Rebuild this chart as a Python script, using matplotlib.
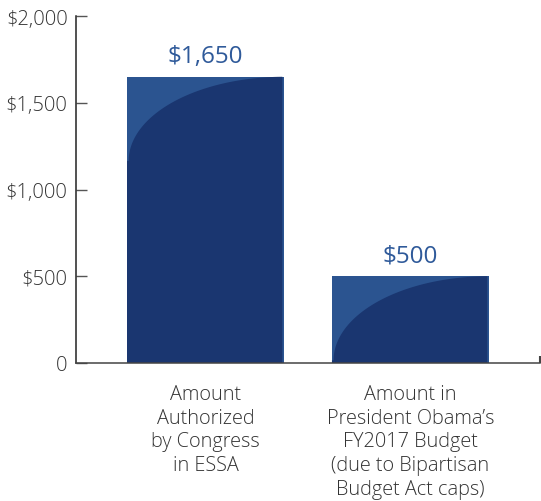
import numpy as np
import matplotlib.pyplot as plt
from matplotlib.patches import Polygon, Rectangle

plt.rcParams['font.family'] = ['Open Sans', 'DejaVu Sans']

categories = ['Amount\nAuthorized\nby Congress\nin ESSA',
              'Amount in\nPresident Obama\u2019s\nFY2017 Budget\n(due to Bipartisan\nBudget Act caps)']
values = [1650, 500]
value_labels = ['$1,650', '$500']
yticks = [0, 500, 1000, 1500, 2000]
ytick_labels = ['0', '$500', '$1,000', '$1,500', '$2,000']

light = '#2b5490'
dark = '#1a3670'
text_blue = '#2f5a9a'
grey = '#333333'

fig = plt.figure(figsize=(5.41, 5.02), dpi=100)
ax = fig.add_axes([0.1405, 0.275, 0.8575, 0.691])

width = 0.766
curve_h = 485
xs = np.arange(len(values))
for x, v, lab in zip(xs, values, value_labels):
    xl, xr = x - width / 2, x + width / 2
    ax.add_patch(Rectangle((xl, 0), width, v, facecolor=light, edgecolor='none'))
    h = min(curve_h, v)
    t = np.linspace(0, np.pi / 2, 80)
    arc = np.column_stack([xr - (width - 0.008) * np.cos(t), (v - h) + h * np.sin(t)])
    pts = np.vstack([[[xl, 0]], [[xl, v - h]], arc, [[xr - 0.008, v], [xr - 0.008, 0]]])
    ax.add_patch(Polygon(pts, closed=True, facecolor=dark, edgecolor='none'))
    ax.text(x, v + 48, lab, ha='center', va='bottom', color=text_blue, fontsize=17.5)

ax.set_xlim(-0.632, 1.632)
ax.set_ylim(0, 2000)
ax.set_yticks(yticks)
ax.set_yticklabels(ytick_labels)
ax.set_xticks(xs)
ax.set_xticklabels(categories, linespacing=1.25)
ax.set_xticks([1.631], minor=True)

for s in ['top', 'right']:
    ax.spines[s].set_visible(False)
ax.spines['left'].set_color('#222222')
ax.spines['bottom'].set_color('#444444')
ax.spines['left'].set_linewidth(1.1)
ax.spines['bottom'].set_linewidth(1.1)

ax.tick_params(axis='y', direction='in', length=8, width=1, color='#555555',
               labelsize=14.5, labelcolor=grey, pad=6)
ax.tick_params(axis='x', which='major', length=0, labelsize=14.3, labelcolor=grey, pad=15)
ax.tick_params(axis='x', which='minor', direction='in', length=5, width=1.5, color='#444444')
for lbl in ax.get_xticklabels() + ax.get_yticklabels():
    lbl.set_fontweight('light')

fig.savefig('out.png', dpi=100)
